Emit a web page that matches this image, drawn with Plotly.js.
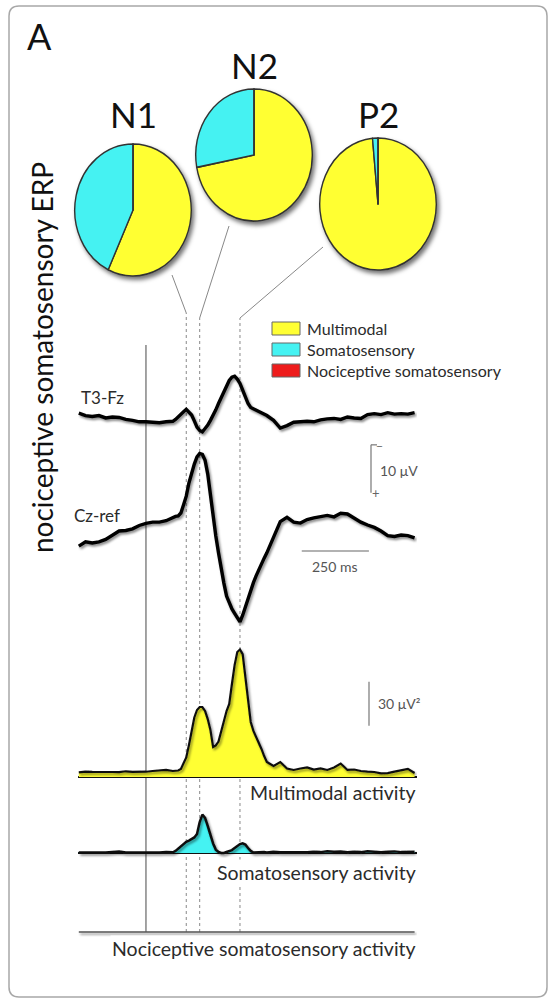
<!DOCTYPE html>
<html>
<head>
<meta charset="utf-8">
<script src="https://cdn.plot.ly/plotly-3.0.1.min.js"></script>
<style>
  html, body { margin: 0; padding: 0; background: #fff; }
  #chart { width: 549px; height: 999px; }
</style>
</head>
<body>
<div id="chart"></div>
<script>
// ---------------- DATA ----------------
// Time axis (ms after stimulus onset)
const times = [-250,-225,-200,-175,-150,-125,-100,-75,-50,-25,0,25,50,75,100,
  110,120,130,140,150,160,170,180,190,200,210,220,230,240,250,260,270,280,290,300,
  310,320,330,340,350,360,370,380,390,400,410,420,430,440,450,
  475,500,525,550,575,600,625,650,675,700,725,750,775,800,825,850,875,900,925,950,975,1000];

// ERP waveforms (µV, negative plotted upward)
const t3fz = [-0.8,-0.3,-0.1,-0.3,0.2,0.0,0.1,0.5,0.7,1.0,1.0,1.1,1.2,1.0,0.9,
  0.5,-0.1,-0.6,-1.1,-1.6,-1.1,-0.4,0.8,2.1,2.8,3.1,2.4,1.7,0.7,-0.3,-1.5,-2.8,-4.1,-5.4,-6.7,
  -7.6,-8.3,-8.5,-7.9,-7.0,-5.6,-4.2,-2.8,-2.0,-1.7,-1.5,-1.3,-1.0,-0.7,-0.3,
  0.7,2.3,1.8,1.1,1.0,0.9,1.0,0.6,0.4,0.3,0.5,0.0,0.2,0.3,-0.5,-0.7,-0.5,-0.9,-0.6,-0.7,-0.6,-0.9];

const czref = [4.4,3.5,3.75,3.5,3.0,2.1,1.25,1.15,0.8,0.1,-0.35,-0.6,-0.6,-0.9,-1.6,
  -1.8,-1.9,-2.5,-4.2,-6.0,-8.75,-10.8,-12.7,-14.2,-14.9,-14.7,-13.5,-10.6,-6.0,-1.0,2.3,5.8,9.4,12.1,14.8,
  16.25,17.5,18.4,19.4,20.2,18.8,17.1,15.2,13.3,12.0,10.6,9.3,7.9,6.9,5.8,
  2.6,-0.7,-1.6,-0.6,-0.4,-1.15,-1.5,-1.7,-2.0,-1.7,-2.45,-2.3,-1.35,-0.6,0.0,0.5,1.25,2.2,2.4,2.1,2.2,2.7];

// Activity time courses (µV²)
const multimodal = [3.2,3.7,3.5,3.3,3.5,3.4,3.3,3.9,3.5,3.4,3.6,4.1,4.6,4.8,4.1,
  4.1,4.4,5.5,8.9,13.3,21.8,32.0,40.6,45.7,47.7,47.7,45.0,39.5,32.0,20.5,21.5,24.2,30.5,38.0,45.0,
  49.8,63.4,76.3,85.2,86.9,83.8,69.5,52.5,37.5,31.4,27.3,23.9,19.1,14.3,10.2,
  7.5,10.2,5.8,4.8,5.8,6.5,5.1,5.8,4.8,6.5,9.2,4.8,5.1,4.1,3.7,3.4,2.5,2.7,3.7,4.8,5.5,2.7];

const somatosensory = [0.3,0.5,0.2,0.4,0.3,0.6,1.0,0.4,0.3,0.5,0.2,0.4,0.3,0.6,0.5,
  1.4,3.1,4.8,6.6,7.6,8.5,9.5,10.6,13.0,21.1,26.2,23.9,18.4,12.3,6.5,2.3,0.7,0.0,0.0,0.7,
  1.4,2.0,3.4,4.8,6.1,6.6,5.8,3.4,1.4,0.3,0.4,0.8,0.5,0.6,0.4,
  0.8,0.5,0.4,0.7,0.3,0.5,0.8,0.6,1.2,0.8,1.0,0.5,0.9,0.6,1.2,0.7,0.5,0.8,1.1,0.6,0.5,0.8];

const nociTimes = [-250, 1000];
const nociceptive = [0, 0];

// Pie charts: contribution of each activity to each ERP peak (%)
const peakNames = ['N1', 'N2', 'P2'];
const peakLatencies = [150, 200, 350];          // ms
const pieLabels = ['Multimodal', 'Somatosensory', 'Nociceptive somatosensory'];
const pieN1 = [57, 43, 0];
const pieN2 = [72, 28, 0];
const pieP2 = [98.5, 1.5, 0];

const traceNames = ['T3-Fz', 'Cz-ref'];
const activityLabels = ['Multimodal activity', 'Somatosensory activity', 'Nociceptive somatosensory activity'];
const scaleSizes = [10, 250, 30];
const scaleLabels = ['10 μV', '250 ms', '30 μV²'];

// ---------------- STYLE / LAYOUT ----------------
const W = 549, H = 999;
const PX = v => v / W;
const PY = v => 1 - v / H;
const xr = [-253, 1009];
const xPix = [78, 417];
const tX = t => PX(xPix[0] + (t - xr[0]) / (xr[1] - xr[0]) * (xPix[1] - xPix[0]));

const colYellow = '#FFFF33', colCyan = '#45F2F2', colRed = '#EE1C1C';
const pieColors = [colYellow, colCyan, colRed];
const FONT = 'Lato, "Open Sans", sans-serif';
const txt = '#2b2b2b';

const pieGeom = [[133, 210], [254, 155], [378, 204]];
const PR = 62;
function pie(vals, g) {
  const cx = g[0], cy = g[1];
  return {
    type: 'pie', values: vals, labels: pieLabels, sort: false, direction: 'clockwise', rotation: 0,
    textinfo: 'none', hoverinfo: 'label+percent', showlegend: false,
    marker: { colors: pieColors, line: { color: '#333', width: 1.5 } },
    domain: { x: [PX(cx - PR), PX(cx + PR)], y: [PY(cy + PR), PY(cy - PR)] }
  };
}

const traces = [
  { x: times, y: t3fz, yaxis: 'y', type: 'scatter', mode: 'lines', name: traceNames[0],
    line: { color: '#000', width: 3.4 }, showlegend: false },
  { x: times, y: czref, yaxis: 'y2', type: 'scatter', mode: 'lines', name: traceNames[1],
    line: { color: '#000', width: 3.4 }, showlegend: false },
  { x: times, y: multimodal, yaxis: 'y3', type: 'scatter', mode: 'lines', name: activityLabels[0],
    fill: 'tozeroy', fillcolor: colYellow, line: { color: '#111', width: 2.2 }, showlegend: false },
  { x: times, y: somatosensory, yaxis: 'y4', type: 'scatter', mode: 'lines', name: activityLabels[1],
    fill: 'tozeroy', fillcolor: colCyan, line: { color: '#111', width: 2.5 }, showlegend: false },
  { x: nociTimes, y: nociceptive, yaxis: 'y5', type: 'scatter', mode: 'lines', name: activityLabels[2],
    fill: 'tozeroy', fillcolor: colRed, line: { color: '#555', width: 1.6 }, showlegend: false },
  pie(pieN1, pieGeom[0]),
  pie(pieN2, pieGeom[1]),
  pie(pieP2, pieGeom[2])
];

function yax(top, bottom, range, zl, zlw) {
  return { domain: [PY(bottom), PY(top)], range: range, anchor: 'x', showgrid: false,
    showticklabels: false, ticks: '', showline: false, zeroline: !!zl,
    zerolinecolor: '#111', zerolinewidth: zlw || 2, fixedrange: true };
}

const shapes = [];
// rounded frame
(function () {
  const x0 = PX(9), x1 = PX(547), y0 = PY(997), y1 = PY(6), rx = 10 / W, ry = 10 / H;
  shapes.push({ type: 'path', xref: 'paper', yref: 'paper', line: { color: '#a8a8a8', width: 1.5 },
    path: `M ${x0 + rx},${y1} L ${x1 - rx},${y1} Q ${x1},${y1} ${x1},${y1 - ry} L ${x1},${y0 + ry} Q ${x1},${y0} ${x1 - rx},${y0} L ${x0 + rx},${y0} Q ${x0},${y0} ${x0},${y0 + ry} L ${x0},${y1 - ry} Q ${x0},${y1} ${x0 + rx},${y1} Z` });
})();
// stimulus onset line
shapes.push({ type: 'line', xref: 'x', yref: 'paper', x0: 0, x1: 0, y0: PY(932), y1: PY(345),
  line: { color: '#666', width: 1.2 }, layer: 'below' });
// peak latency dotted lines
const lineTop = [313, 318, 318];
peakLatencies.forEach((t, i) => {
  shapes.push({ type: 'line', xref: 'x', yref: 'paper', x0: t, x1: t, y0: PY(932), y1: PY(lineTop[i]),
    line: { color: '#888', width: 1, dash: 'dot' }, layer: 'below' });
});
// connectors from pies to the latency lines
const connStart = [[172, 275], [229, 226], [323, 247]];
peakLatencies.forEach((t, i) => {
  shapes.push({ type: 'line', xref: 'paper', yref: 'paper', x0: PX(connStart[i][0]), y0: PY(connStart[i][1]),
    x1: tX(t), y1: PY(lineTop[i]), line: { color: '#888', width: 1 } });
});
// legend boxes
const legTop = [322, 343, 364];
pieLabels.forEach((l, i) => {
  shapes.push({ type: 'rect', xref: 'paper', yref: 'paper', x0: PX(272), x1: PX(300),
    y0: PY(legTop[i] + 13), y1: PY(legTop[i]), fillcolor: pieColors[i], line: { color: '#666', width: 1 } });
});
// scale bars
shapes.push({ type: 'line', xref: 'paper', yref: 'y2', x0: PX(371), x1: PX(371), y0: -16.7, y1: -16.7 + scaleSizes[0],
  line: { color: '#777', width: 1.2 } });
shapes.push({ type: 'line', xref: 'paper', yref: 'y2', x0: PX(371), x1: PX(377), y0: -16.7, y1: -16.7,
  line: { color: '#777', width: 1.2 } });
shapes.push({ type: 'line', xref: 'x', yref: 'paper', x0: 580, x1: 580 + scaleSizes[1], y0: PY(551), y1: PY(551),
  line: { color: '#666', width: 1.2 } });
shapes.push({ type: 'line', xref: 'paper', yref: 'y3', x0: PX(369), x1: PX(369), y0: 35, y1: 35 + scaleSizes[2],
  line: { color: '#777', width: 1.2 } });

const annotations = [];
function ann(text, x, y, size, opts) {
  annotations.push(Object.assign({ text: text, xref: 'paper', yref: 'paper', x: PX(x), y: PY(y),
    showarrow: false, xanchor: 'center', yanchor: 'middle', font: { family: FONT, size: size, color: txt } }, opts || {}));
}
ann('A', 39, 36, 36, { font: { family: FONT, size: 36, color: '#111' } });
ann('nociceptive somatosensory ERP', 42, 358, 28, { textangle: -90, font: { family: FONT, size: 28, color: '#111' } });
const pieLabelPos = [[133, 114], [254, 65], [378, 114]];
peakNames.forEach((n, i) => ann(n, pieLabelPos[i][0], pieLabelPos[i][1], 35, { font: { family: FONT, size: 35, color: '#111' } }));
pieLabels.forEach((l, i) => ann(l, 305, legTop[i] + 6.5, 16, { xanchor: 'left' }));
ann(traceNames[0], 79, 397, 17, { xanchor: 'left' });
ann(traceNames[1], 72, 515, 17, { xanchor: 'left' });
ann('−', 379, 445, 12, { font: { family: FONT, size: 12, color: '#666' } });
ann('+', 376, 493, 13, { font: { family: FONT, size: 13, color: '#666' } });
ann(scaleLabels[0], 378, 470, 14, { xanchor: 'left', font: { family: FONT, size: 14, color: '#555' } });
ann(scaleLabels[1], 335, 566, 14, { font: { family: FONT, size: 14, color: '#555' } });
ann(scaleLabels[2], 376, 703, 14, { xanchor: 'left', font: { family: FONT, size: 14, color: '#555' } });
ann(activityLabels[0], 418, 792, 19.5, { xanchor: 'right', bgcolor: '#fff' });
ann(activityLabels[1], 418, 872, 19.5, { xanchor: 'right', bgcolor: '#fff' });
ann(activityLabels[2], 418, 948, 19.5, { xanchor: 'right', bgcolor: '#fff' });

const layout = {
  width: W, height: H, margin: { l: 0, r: 0, t: 0, b: 0 }, paper_bgcolor: '#fff', plot_bgcolor: 'rgba(0,0,0,0)',
  showlegend: false, hovermode: false,
  xaxis: { domain: [PX(xPix[0]), PX(xPix[1])], range: xr, visible: false, fixedrange: true },
  yaxis: yax(355, 455, [7.917, -12.917]),
  yaxis2: yax(440, 640, [23.96, -17.71]),
  yaxis3: yax(640, 782, [-3.41, 93.39], true, 2.5),
  yaxis4: yax(800, 858, [-3.41, 36.13], true, 2),
  yaxis5: yax(920, 940, [-5.45, 8.18]),
  shapes: shapes, annotations: annotations
};

Plotly.newPlot('chart', traces, layout, { displayModeBar: false, staticPlot: true }).then(function (gd) {
  const NS = 'http://www.w3.org/2000/svg';
  const svg = gd.querySelector('svg.main-svg');
  let defs = svg.querySelector('defs');
  if (!defs) { defs = document.createElementNS(NS, 'defs'); svg.insertBefore(defs, svg.firstChild); }
  function mkFilter(id, dx, dy, sd, op) {
    const f = document.createElementNS(NS, 'filter');
    f.setAttribute('id', id);
    f.setAttribute('filterUnits', 'userSpaceOnUse');
    f.setAttribute('x', '-1000'); f.setAttribute('y', '-1000');
    f.setAttribute('width', '3000'); f.setAttribute('height', '3000');
    const d = document.createElementNS(NS, 'feDropShadow');
    d.setAttribute('dx', dx); d.setAttribute('dy', dy);
    d.setAttribute('stdDeviation', sd);
    d.setAttribute('flood-color', '#000'); d.setAttribute('flood-opacity', op);
    f.appendChild(d); defs.appendChild(f);
  }
  mkFilter('lineShadow', 1.5, 2, 1.3, 0.45);
  mkFilter('pieShadow', 2.5, 3, 2, 0.55);
  gd.querySelectorAll('.scatterlayer .js-line').forEach(p => p.setAttribute('filter', 'url(#lineShadow)'));
  // pies: slight vertical ellipse as in the original figure, plus shadow
  gd.querySelectorAll('.pielayer .trace').forEach((g, i) => {
    const c = pieGeom[i];
    if (!c) return;
    g.setAttribute('transform', `translate(${c[0]},${c[1]}) scale(0.94,1.065) translate(${-c[0]},${-c[1]})`);
    g.setAttribute('filter', 'url(#pieShadow)');
  });
});
</script>
</body>
</html>
